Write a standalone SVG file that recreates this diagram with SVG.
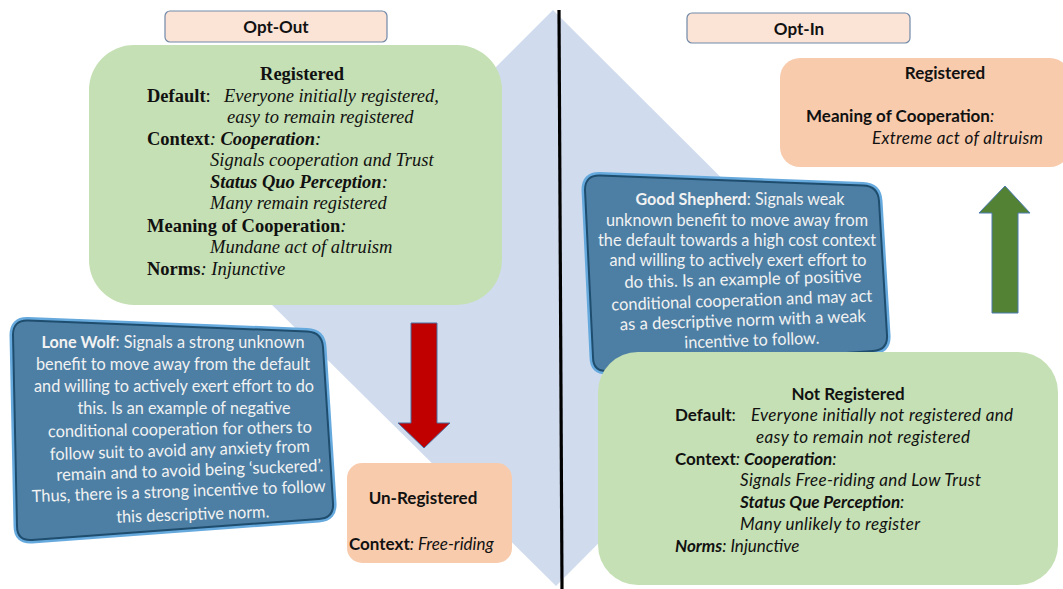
<svg xmlns="http://www.w3.org/2000/svg" width="1063" height="589" viewBox="0 0 1063 589">
<style>
.serif{font-family:"Liberation Serif","DejaVu Serif",serif;font-size:18.5px;fill:#111}
.sans{font-family:Lato,"Liberation Sans",sans-serif;font-size:17px;fill:#111}
.b{font-weight:bold}
.i{font-style:italic}
.blue{font-family:Lato,"Liberation Sans",sans-serif;font-size:17px;fill:#f2f2f2;text-anchor:middle}
.hdr{fill:#fbe3d6;stroke:#7189a8;stroke-width:1.2}
.green{fill:#c5e0b4}
.peach{fill:#f8cbad}
.bbox{fill:#4d7fa4;stroke:#1f4d6e;stroke-width:2}
.bhalo{fill:none;stroke:#66a9dd;stroke-width:7}
</style>
<rect width="1063" height="589" fill="#fff"/>
<polygon id="diamond" points="553,10 842,298 556,586 265,298" fill="#d0dcee"/>
<line x1="559" y1="10" x2="562" y2="589" stroke="#000" stroke-width="3.2"/>

<g id="opt-out">
<rect class="hdr" x="165" y="11" width="222" height="31" rx="5"/>
<text class="sans b" x="276" y="33" text-anchor="middle" font-size="19.5">Opt-Out</text>
</g>
<g id="opt-in">
<rect class="hdr" x="687" y="13" width="223" height="30" rx="5"/>
<text class="sans b" x="799" y="35" text-anchor="middle" font-size="19.5">Opt-In</text>
</g>

<g id="registered-optout">
<rect class="green" x="89" y="45" width="413" height="260" rx="45"/>
<text class="serif b" x="302" y="80" text-anchor="middle">Registered</text>
<text class="serif" x="147" y="102"><tspan class="b">Default</tspan>:</text>
<text class="serif i" x="224" y="102">Everyone initially registered,</text>
<text class="serif i" x="227" y="123">easy to remain registered</text>
<text class="serif" x="147" y="145"><tspan class="b">Context</tspan><tspan class="i">: </tspan><tspan class="b i">Cooperation</tspan><tspan class="i">:</tspan></text>
<text class="serif i" x="210" y="166">Signals cooperation and Trust</text>
<text class="serif" x="210" y="188"><tspan class="b i">Status Quo Perception</tspan><tspan class="i">:</tspan></text>
<text class="serif i" x="210" y="209">Many remain registered</text>
<text class="serif" x="147" y="232"><tspan class="b">Meaning of Cooperation</tspan><tspan class="i">:</tspan></text>
<text class="serif i" x="210" y="253">Mundane act of altruism</text>
<text class="serif" x="147" y="275"><tspan class="b">Norms</tspan><tspan class="i">:  Injunctive</tspan></text>
</g>

<g id="registered-optin">
<rect class="peach" x="780" y="58" width="290" height="109" rx="20"/>
<text class="sans b" x="945" y="79" text-anchor="middle" font-size="16.5">Registered</text>
<text class="sans" x="806" y="122" font-size="16.5"><tspan class="b">Meaning of Cooperation</tspan><tspan class="i">:</tspan></text>
<text class="sans i" x="872" y="144" font-size="17.5" textLength="171" lengthAdjust="spacing">Extreme act of altruism</text>
</g>

<g id="lone-wolf">
<path class="bhalo" d="M 28,320.6 L 307,331.4 Q 322,332 323,347 L 333,503 Q 334,518 319,519 L 32,540 Q 17,541 17,526 L 13,335 Q 13,320 28,320.6 Z"/>
<path class="bbox" d="M 28,320.6 L 307,331.4 Q 322,332 323,347 L 333,503 Q 334,518 319,519 L 32,540 Q 17,541 17,526 L 13,335 Q 13,320 28,320.6 Z"/>
<text class="blue" x="173" y="348" textLength="263" lengthAdjust="spacingAndGlyphs"><tspan font-weight="bold">Lone Wolf</tspan>: Signals a strong unknown</text>
<text class="blue" x="173" y="370" textLength="274" lengthAdjust="spacingAndGlyphs">benefit to move away from the default</text>
<text class="blue" x="174" y="392" textLength="280" lengthAdjust="spacingAndGlyphs">and willing to actively exert effort to do</text>
<text class="blue" x="184" y="414" textLength="213" lengthAdjust="spacingAndGlyphs">this. Is an example of negative</text>
<text class="blue" x="180" y="435" textLength="264" lengthAdjust="spacingAndGlyphs" transform="rotate(-1 180 435)">conditional cooperation for  others to</text>
<text class="blue" x="180" y="456" textLength="260" lengthAdjust="spacingAndGlyphs" transform="rotate(-1.8 180 456)">follow suit to avoid any anxiety from</text>
<text class="blue" x="190" y="476" textLength="267" lengthAdjust="spacingAndGlyphs" transform="rotate(-2 190 476)">remain and to avoid being ‘suckered’.</text>
<text class="blue" x="179" y="497" textLength="294" lengthAdjust="spacingAndGlyphs" transform="rotate(-2 179 497)">Thus, there is a strong incentive to follow</text>
<text class="blue" x="193" y="520" textLength="153" lengthAdjust="spacingAndGlyphs" transform="rotate(-2 193 520)">this descriptive norm.</text>
</g>

<g id="good-shepherd">
<path class="bhalo" d="M 600,175.5 L 863,185.5 Q 878,186 879,201 L 887,335 Q 888,350 873,351 L 608,371 Q 593,372 593,357 L 585,190 Q 585,175 600,175.5 Z"/>
<path class="bbox" d="M 600,175.5 L 863,185.5 Q 878,186 879,201 L 887,335 Q 888,350 873,351 L 608,371 Q 593,372 593,357 L 585,190 Q 585,175 600,175.5 Z"/>
<text class="blue" x="740" y="205" textLength="209" lengthAdjust="spacingAndGlyphs"><tspan font-weight="bold">Good Shepherd</tspan>: Signals weak</text>
<text class="blue" x="737" y="226" textLength="262" lengthAdjust="spacingAndGlyphs">unknown benefit to move away from</text>
<text class="blue" x="737" y="246" textLength="278" lengthAdjust="spacingAndGlyphs">the default towards a high cost context</text>
<text class="blue" x="738" y="266" textLength="257" lengthAdjust="spacingAndGlyphs">and willing to actively exert effort to</text>
<text class="blue" x="743" y="285" textLength="237" lengthAdjust="spacingAndGlyphs" transform="rotate(-1.5 743 285)">do this. Is an example of positive</text>
<text class="blue" x="742" y="306" textLength="261" lengthAdjust="spacingAndGlyphs" transform="rotate(-2 742 306)">conditional cooperation and may act</text>
<text class="blue" x="743" y="326" textLength="246" lengthAdjust="spacingAndGlyphs" transform="rotate(-2 743 326)">as a descriptive norm with a weak</text>
<text class="blue" x="752" y="346" textLength="135" lengthAdjust="spacingAndGlyphs" transform="rotate(-2 752 346)">incentive to follow.</text>
</g>

<g id="un-registered">
<rect class="peach" x="347" y="463" width="165" height="100" rx="15"/>
<text class="sans b" x="423" y="504" text-anchor="middle">Un-Registered</text>
<text class="sans" x="349" y="550"><tspan class="b">Context</tspan><tspan class="i">: Free-riding</tspan></text>
</g>

<g id="not-registered">
<rect class="green" x="598" y="352" width="460" height="233" rx="40"/>
<text class="sans b" x="848" y="400" text-anchor="middle">Not Registered</text>
<text class="sans" x="675" y="421"><tspan class="b">Default</tspan>:</text>
<text class="sans i" x="751" y="421" textLength="262" lengthAdjust="spacing">Everyone initially not registered and</text>
<text class="sans i" x="756" y="443" textLength="214" lengthAdjust="spacing">easy to remain not registered</text>
<text class="sans" x="675" y="465"><tspan class="b">Context</tspan><tspan class="i">: </tspan><tspan class="b i">Cooperation</tspan><tspan class="i">:</tspan></text>
<text class="sans i" x="740" y="486" textLength="241" lengthAdjust="spacing">Signals Free-riding and Low Trust</text>
<text class="sans" x="740" y="508"><tspan class="b i">Status Que Perception</tspan><tspan class="i">:</tspan></text>
<text class="sans i" x="740" y="530" textLength="180" lengthAdjust="spacing">Many unlikely to register</text>
<text class="sans" x="675" y="552"><tspan class="b i">Norms</tspan><tspan class="i">:  Injunctive</tspan></text>
</g>

<g id="connectors">
<polygon points="411,323 437,323 437,423 450,423 424,448 398,423 411,423" fill="#c00000" stroke="#4a6fa0" stroke-width="1"/>
<polygon points="992,313 1018,313 1018,213 1030,213 1005,186 979,213 992,213" fill="#548235" stroke="#4a7ab0" stroke-width="1"/>
</g>
</svg>
